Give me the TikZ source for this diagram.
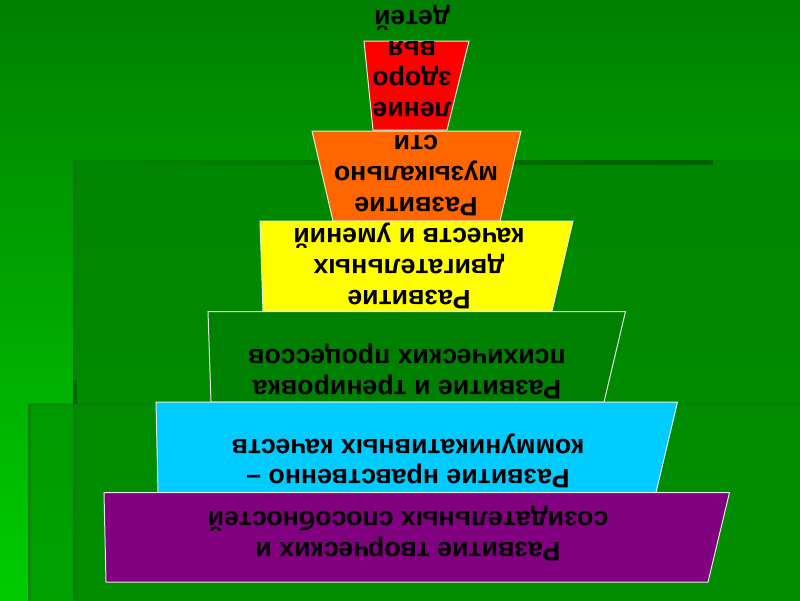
\documentclass[tikz,border=0pt]{standalone}
\usepackage{fontspec}
\setmainfont{Liberation Sans}
\definecolor{bgtop}{RGB}{0,128,0}
\definecolor{bgbot}{RGB}{0,204,0}
\definecolor{bAtop}{RGB}{0,134,0}
\definecolor{bAbot}{RGB}{0,142,0}
\definecolor{bBtop}{RGB}{0,154,0}
\definecolor{bBbot}{RGB}{0,162,0}
\definecolor{edgedark}{RGB}{0,96,0}
\definecolor{edgesoft}{RGB}{20,120,20}
\definecolor{cRed}{RGB}{255,0,0}
\definecolor{cOrange}{RGB}{255,102,0}
\definecolor{cYellow}{RGB}{255,255,0}
\definecolor{cGreen}{RGB}{0,128,0}
\definecolor{cBlue}{RGB}{0,204,255}
\definecolor{cPurple}{RGB}{128,0,128}
\definecolor{outline}{RGB}{225,235,225}
\begin{document}
\begin{tikzpicture}[x=1pt,y=-1pt,
  lvl/.style={draw=outline, line width=1pt, line join=miter},
  lbl/.style={rotate=180, align=center, inner sep=0pt, text=black,
    font=\bfseries\fontsize{26.7}{30.7}\selectfont}]
\useasboundingbox (0,0) rectangle (800,600);
% background
\shade[top color=bgtop, bottom color=bgbot] (0,0) rectangle (800,600);
% frame B
\shade[top color=bBtop, bottom color=bBbot] (28,404) rectangle (800,600);
% frame A
\shade[top color=bAtop, bottom color=bAbot] (73,160) rectangle (800,600);
% frame edges
\fill[edgesoft, opacity=0.6] (28,404) rectangle (31,600);
\fill[edgesoft, opacity=0.5] (28,403) rectangle (800,406);
\fill[edgesoft, opacity=0.6] (73,160) rectangle (77,600);
\fill[edgedark, opacity=0.8] (73,380) rectangle (77,404);
\shade[left color=bAtop, right color=edgedark] (77,160) rectangle (713,164);

% red level
\draw[lvl, fill=cRed] (364,41) -- (469,41) -- (447,130) -- (373,130) -- cycle;
\node[lbl] (tRed) at (412,61) {ление\\здоро\\вья\\детей};
% orange level
\draw[lvl, fill=cOrange] (312,131) -- (521,131) -- (500,221) -- (333,221) -- cycle;
\node[lbl] (tOrange) at (416,175.5) {Развитие\\музыкально\\сти};
% yellow level
\draw[lvl, fill=cYellow] (260,221) -- (573,221) -- (552,311) -- (263,311) -- cycle;
\node[lbl] (tYellow) at (409,265.8) {Развитие\\двигательных\\качеств и умений};
% green level
\draw[lvl, fill=cGreen] (208,311.5) -- (625.5,311.5) -- (604,402) -- (211,402) -- cycle;
\node[lbl] (tGreen) at (407,371.3) {Развитие и тренировка\\психических процессов};
% blue level
\draw[lvl, fill=cBlue] (156,402) -- (677.5,402) -- (656,492.5) -- (158,492.5) -- cycle;
\node[lbl] (tBlue) at (408,461) {Развитие нравственно –\\коммуникативных качеств};
% purple level
\draw[lvl, fill=cPurple] (104,492.5) -- (729.5,492.5) -- (708,582) -- (106,582) -- cycle;
\node[lbl] (tPurple) at (408,533.7) {Развитие творческих и\\созидательных способностей};
\end{tikzpicture}
\end{document}
